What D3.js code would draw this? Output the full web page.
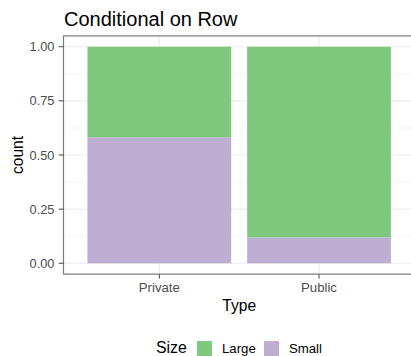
<!DOCTYPE html>
<html><head><meta charset="utf-8">
<script src="https://cdn.jsdelivr.net/npm/d3@7/dist/d3.min.js"></script>
<style>body{margin:0;background:#fff;overflow:hidden}svg{display:block;font-family:"Liberation Sans",Arial,sans-serif}</style>
</head><body>
<script>
const types = ["Private", "Public"];
const sizes = ["Large", "Small"];
const smallShare = [0.582, 0.12];
const largeShare = [0.418, 0.88];
const yTicks = [0, 0.25, 0.5, 0.75, 1];
const yMinor = [0.125, 0.375, 0.625, 0.875];
const colors = ["#7FC97F", "#BEAED4"];
const title = "Conditional on Row";

const W = 411, H = 356;
const svg = d3.select("body").append("svg").attr("width", W).attr("height", H);

const unit = 159.7;
const pL = 63.5, pT = 35.9, pB = 274.1;
const pR = pL + 2.2 * unit;
const x = d3.scaleLinear().domain([0.4, 2.6]).range([pL, pR]);
const y = d3.scaleLinear().domain([-0.05, 1.05]).range([pB, pT]);

const g = svg.append("g");
// gridlines
yMinor.forEach(v => g.append("line").attr("x1", pL).attr("x2", pR).attr("y1", y(v)).attr("y2", y(v)).attr("stroke", "#EBEBEB").attr("stroke-width", 0.55));
yTicks.forEach(v => g.append("line").attr("x1", pL).attr("x2", pR).attr("y1", y(v)).attr("y2", y(v)).attr("stroke", "#EBEBEB").attr("stroke-width", 1.1));
types.forEach((t, i) => g.append("line").attr("x1", x(i + 1)).attr("x2", x(i + 1)).attr("y1", pT).attr("y2", pB).attr("stroke", "#EBEBEB").attr("stroke-width", 1.1));

// bars
const rows = types.map((t, i) => ({type: t, i: i, Small: smallShare[i], Large: largeShare[i]}));
const stack = d3.stack().keys(["Small", "Large"])(rows);
const color = d3.scaleOrdinal().domain(sizes).range(colors);
stack.forEach(layer => {
  g.selectAll(null).data(layer).enter().append("rect")
    .attr("x", d => x(d.data.i + 1 - 0.45))
    .attr("width", d => x(d.data.i + 1 + 0.45) - x(d.data.i + 1 - 0.45))
    .attr("y", d => y(d[1]))
    .attr("height", d => y(d[0]) - y(d[1]))
    .attr("fill", color(layer.key));
});

// border
g.append("rect").attr("x", pL).attr("y", pT).attr("width", pR - pL).attr("height", pB - pT)
  .attr("fill", "none").attr("stroke", "#7a7a7a").attr("stroke-width", 1.2);

// y axis
yTicks.forEach(v => {
  g.append("line").attr("x1", pL - 4.8).attr("x2", pL).attr("y1", y(v)).attr("y2", y(v)).attr("stroke", "#444").attr("stroke-width", 1);
  g.append("text").attr("x", 54.5).attr("y", y(v)).attr("dy", "0.36em").attr("text-anchor", "end")
    .attr("font-size", 12.8).attr("fill", "#4D4D4D").text(d3.format(".2f")(v));
});
// x axis
types.forEach((t, i) => {
  g.append("line").attr("x1", x(i + 1)).attr("x2", x(i + 1)).attr("y1", pB).attr("y2", pB + 4.5).attr("stroke", "#444").attr("stroke-width", 1);
  g.append("text").attr("x", x(i + 1)).attr("y", 292).attr("text-anchor", "middle")
    .attr("font-size", 13.2).attr("fill", "#4D4D4D").text(t);
});

// axis titles
svg.append("text").attr("x", (pL + pR) / 2).attr("y", 310.5).attr("text-anchor", "middle").attr("font-size", 15.6).attr("fill", "#000").text("Type");
svg.append("text").attr("transform", `translate(23,${(pT + pB) / 2}) rotate(-90)`).attr("text-anchor", "middle").attr("font-size", 15.6).attr("fill", "#000").text("count");

// title
svg.append("text").attr("x", 64).attr("y", 25.5).attr("font-size", 20).attr("fill", "#000").text(title);

// legend
svg.append("text").attr("x", 156).attr("y", 353).attr("font-size", 15.8).attr("fill", "#000").text("Size");
const lx = [197, 264];
sizes.forEach((s, i) => {
  svg.append("rect").attr("x", lx[i]).attr("y", 341).attr("width", 15).attr("height", 17).attr("fill", color(s));
  svg.append("text").attr("x", lx[i] + 25).attr("y", 352.8).attr("font-size", 13.2).attr("fill", "#000").text(s);
});
</script>
</body></html>
